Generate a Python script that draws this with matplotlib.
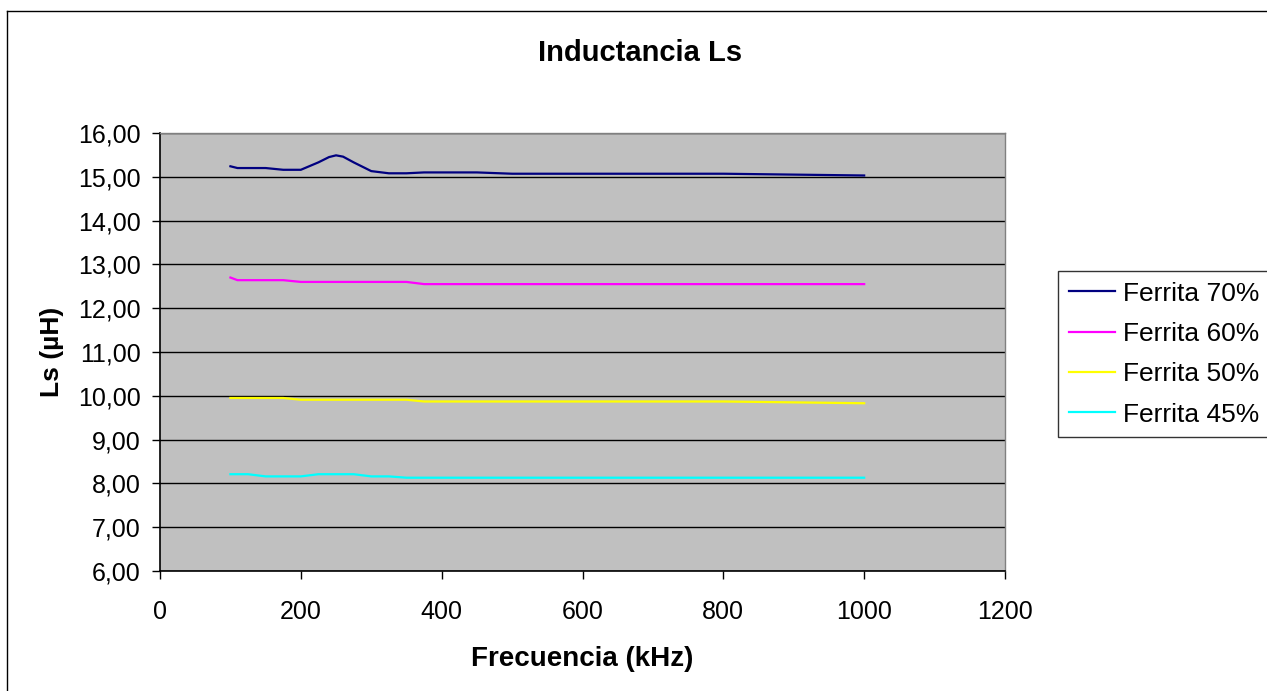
import matplotlib
matplotlib.use("Agg")
import matplotlib.pyplot as plt
from matplotlib.lines import Line2D
from matplotlib.ticker import FuncFormatter, MultipleLocator

plt.rcParams['font.family'] = ['Liberation Sans', 'DejaVu Sans']

# frecuencias de medida (kHz)
frecuencia = [100, 110, 125, 150, 175, 200, 225, 240, 250, 260, 275, 300,
              325, 350, 375, 400, 450, 500, 600, 700, 800, 900, 1000]

# inductancia Ls (uH) por porcentaje de ferrita
ls_70 = [15.24, 15.20, 15.20, 15.20, 15.16, 15.16, 15.33, 15.45, 15.49, 15.46,
         15.33, 15.13, 15.08, 15.08, 15.10, 15.10, 15.10, 15.07, 15.07, 15.07,
         15.07, 15.05, 15.03]
ls_60 = [12.70, 12.64, 12.64, 12.64, 12.64, 12.60, 12.60, 12.60, 12.60, 12.60,
         12.60, 12.60, 12.60, 12.60, 12.55, 12.55, 12.55, 12.55, 12.55, 12.55,
         12.55, 12.55, 12.55]
ls_50 = [9.95, 9.95, 9.95, 9.95, 9.95, 9.91, 9.91, 9.91, 9.91, 9.91,
         9.91, 9.91, 9.91, 9.91, 9.87, 9.87, 9.87, 9.87, 9.87, 9.87,
         9.87, 9.85, 9.83]
ls_45 = [8.21, 8.21, 8.21, 8.16, 8.16, 8.16, 8.21, 8.21, 8.21, 8.21,
         8.21, 8.16, 8.16, 8.13, 8.13, 8.13, 8.13, 8.13, 8.13, 8.13,
         8.13, 8.13, 8.13]

series = [("Ferrita 70%", ls_70, "#000080"),
          ("Ferrita 60%", ls_60, "#FF00FF"),
          ("Ferrita 50%", ls_50, "#FFFF00"),
          ("Ferrita 45%", ls_45, "#00FFFF")]

W, H = 1267, 691
fig = plt.figure(figsize=(W / 100, H / 100), dpi=100)
fig.patch.set_facecolor("white")

# marco exterior (solo se ven los bordes izquierdo y superior)
fig.add_artist(Line2D([7 / W, 7 / W], [0, 1 - 11 / H], transform=fig.transFigure,
                      color="black", lw=1))
fig.add_artist(Line2D([7 / W, 1], [1 - 11 / H, 1 - 11 / H], transform=fig.transFigure,
                      color="black", lw=1))

ax = fig.add_axes([160 / W, 1 - 571 / H, 845 / W, 438 / H])
ax.set_facecolor("#C0C0C0")

for nombre, vals, col in series:
    ax.plot(frecuencia, vals, color=col, lw=1.6, label=nombre)

ax.set_xlim(0, 1200)
ax.set_ylim(6, 16)
ax.xaxis.set_major_locator(MultipleLocator(200))
ax.yaxis.set_major_locator(MultipleLocator(1))
ax.yaxis.set_major_formatter(FuncFormatter(lambda v, p: f"{v:.2f}".replace(".", ",")))
ax.grid(axis="y", color="black", lw=1)
ax.set_axisbelow(True)

for s in ["top", "right"]:
    ax.spines[s].set_color("#808080")
    ax.spines[s].set_linewidth(1)
for s in ["left", "bottom"]:
    ax.spines[s].set_color("black")
    ax.spines[s].set_linewidth(1.2)

ax.tick_params(direction="out", length=6, width=1, labelsize=18)
ax.tick_params(axis="x", pad=15)
ax.tick_params(axis="y", pad=8)

ax.set_xlabel("Frecuencia (kHz)", fontsize=20, fontweight="bold", labelpad=16)
ax.set_ylabel("Ls (µH)", fontsize=19, fontweight="bold", labelpad=10)
fig.text(640 / W, 1 - 53 / H, "Inductancia Ls", fontsize=21, fontweight="bold",
         ha="center", va="center")

leg = fig.legend(loc="upper left", bbox_to_anchor=(1058 / W, 1 - 271 / H),
                 fontsize=19, frameon=True, fancybox=False, handlelength=1.75,
                 handletextpad=0.3, labelspacing=0.62, borderpad=0.4,
                 borderaxespad=0)
leg.get_frame().set_edgecolor("black")
leg.get_frame().set_linewidth(1)

fig.savefig("out.png", dpi=100)
